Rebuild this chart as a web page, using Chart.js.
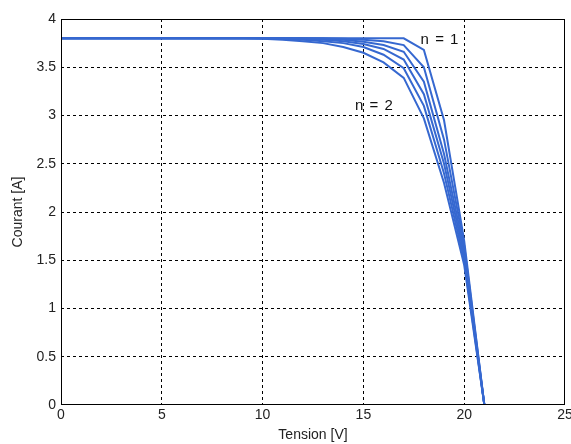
<!DOCTYPE html>
<html>
<head>
<meta charset="utf-8">
<script src="https://cdn.jsdelivr.net/npm/chart.js@4"></script>
<style>
  body { margin: 0; background: #fff; }
  #wrap { width: 571px; height: 444px; }
</style>
</head>
<body>
<div id="wrap"><canvas id="chart" width="571" height="444"></canvas></div>
<script>
// Tension values (V) where the curves were read
const tension = [0, 9, 10, 11, 12, 13, 14, 15, 16, 17, 18, 19, 20, 21];

// Courant (A) for each ideality factor n
const courantN10 = [3.8, 3.8, 3.8, 3.8, 3.8, 3.8, 3.8, 3.8, 3.8, 3.8, 3.68, 2.95, 1.7, 0];
const courantN12 = [3.8, 3.8, 3.8, 3.8, 3.8, 3.8, 3.795, 3.785, 3.77, 3.73, 3.5, 2.75, 1.65, 0];
const courantN14 = [3.8, 3.8, 3.8, 3.8, 3.8, 3.795, 3.785, 3.765, 3.73, 3.66, 3.35, 2.6, 1.6, 0];
const courantN16 = [3.8, 3.8, 3.8, 3.8, 3.795, 3.785, 3.77, 3.74, 3.69, 3.58, 3.22, 2.5, 1.55, 0];
const courantN18 = [3.8, 3.8, 3.8, 3.795, 3.785, 3.77, 3.75, 3.71, 3.63, 3.49, 3.1, 2.4, 1.5, 0];
const courantN20 = [3.8, 3.8, 3.795, 3.785, 3.77, 3.75, 3.71, 3.65, 3.55, 3.39, 2.97, 2.3, 1.45, 0];

const seriesNames = ['n = 1', 'n = 1.2', 'n = 1.4', 'n = 1.6', 'n = 1.8', 'n = 2'];
const seriesData = [courantN10, courantN12, courantN14, courantN16, courantN18, courantN20];

// Text labels placed in data units
const notes = [
  { text: 'n = 1', x: 18.8, y: 3.78 },
  { text: 'n = 2', x: 15.55, y: 3.1 },
];

const LINE_COLOR = '#3668d0';

const datasets = seriesData.map((values, i) => ({
  label: seriesNames[i],
  data: values.map((v, k) => ({ x: tension[k], y: v })),
  borderColor: LINE_COLOR,
  borderWidth: 2,
  pointRadius: 0,
  tension: 0,
  fill: false,
}));

// frame around the plot + text notes
const framePlugin = {
  id: 'frame',
  afterDraw(chart) {
    const { ctx, chartArea: a, scales } = chart;
    ctx.save();
    ctx.strokeStyle = '#000';
    ctx.lineWidth = 1;
    ctx.strokeRect(a.left + 0.5, a.top + 0.5, a.right - a.left - 1, a.bottom - a.top - 1);
    ctx.fillStyle = '#111';
    ctx.font = '15px "Liberation Sans", Arial, sans-serif';
    ctx.letterSpacing = '1px';
    ctx.textAlign = 'center';
    ctx.textBaseline = 'middle';
    notes.forEach(n => {
      ctx.fillText(n.text, scales.x.getPixelForValue(n.x), scales.y.getPixelForValue(n.y));
    });
    ctx.restore();
  },
};

const tickFont = { family: '"Liberation Sans", Arial, sans-serif', size: 14 };
const plainNumber = v => String(v);

new Chart(document.getElementById('chart').getContext('2d'), {
  type: 'line',
  data: { datasets },
  options: {
    responsive: false,
    animation: false,
    layout: { padding: { top: 19, right: 0, left: 0, bottom: 0 } },
    plugins: { legend: { display: false }, tooltip: { enabled: false } },
    scales: {
      x: {
        type: 'linear',
        min: 0,
        max: 25,
        ticks: { stepSize: 5, color: '#222', font: tickFont, padding: 2, maxRotation: 0, callback: plainNumber },
        grid: {
          drawTicks: false,
          lineWidth: 1,
          color: ctx => (ctx.tick && (ctx.tick.value === 0 || ctx.tick.value === 25)) ? 'rgba(0,0,0,0)' : '#000',
        },
        border: { display: false, dash: [3, 3] },
        title: { display: true, text: 'Tension [V]', color: '#222', font: tickFont, padding: { top: 0, bottom: 0 } },
        afterFit: scale => { scale.height = 39; scale.paddingRight = 6; scale.paddingLeft = 0; },
      },
      y: {
        type: 'linear',
        min: 0,
        max: 4,
        ticks: { stepSize: 0.5, color: '#222', font: tickFont, padding: 5, callback: plainNumber },
        grid: {
          drawTicks: false,
          lineWidth: 1,
          color: ctx => (ctx.tick && (ctx.tick.value === 0 || ctx.tick.value === 4)) ? 'rgba(0,0,0,0)' : '#000',
        },
        border: { display: false, dash: [3, 3] },
        title: { display: true, text: 'Courant [A]', color: '#222', font: tickFont, padding: { top: 10, bottom: 0 } },
        afterFit: scale => { scale.width = 61; },
      },
    },
  },
  plugins: [framePlugin],
});
</script>
</body>
</html>
